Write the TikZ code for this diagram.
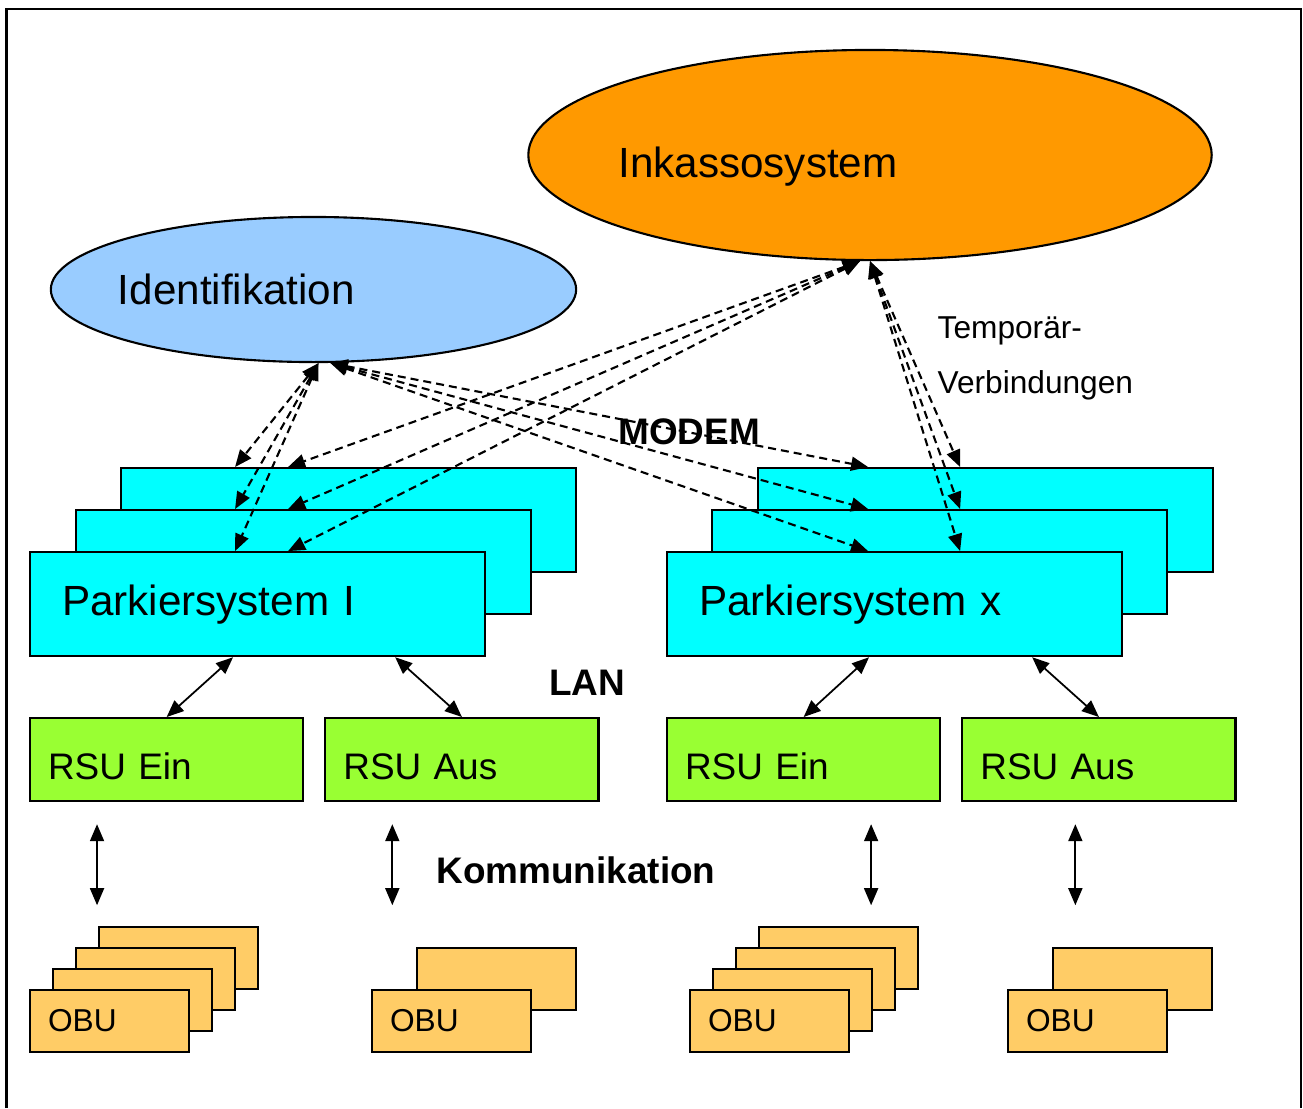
\documentclass[tikz,border=0pt]{standalone}
\usepackage{fontspec}
\setmainfont{Liberation Sans}
\usetikzlibrary{positioning,shapes.geometric,arrows.meta}

\definecolor{inkassoorange}{HTML}{FF9900}
\definecolor{identblue}{HTML}{99CCFF}
\definecolor{parkcyan}{HTML}{00FFFF}
\definecolor{rsugreen}{HTML}{99FF33}
\definecolor{obuyellow}{HTML}{FFCC66}

\begin{document}
\begin{tikzpicture}[
		x=0.01cm, y=-0.01cm,
		plainshape/.style={draw, line width=0.6pt, anchor=north west, align=left},
		parkshape/.style={plainshape, fill=parkcyan, minimum width=4.55cm, minimum height=1.04cm, inner xsep=0.32cm, text width=3.91cm, font=\fontsize{12}{14}\selectfont},
		rsushape/.style={plainshape, fill=rsugreen, minimum width=2.73cm, minimum height=0.83cm, inner xsep=0.18cm, text width=2.37cm, text height=0.4cm, font=\fontsize{10.5}{12}\selectfont},
		obushape/.style={plainshape, fill=obuyellow, minimum width=1.59cm, minimum height=0.62cm, inner xsep=0.18cm, text width=1.23cm, font=\fontsize{9}{11}\selectfont},
		cloudshape/.style={ellipse, draw, line width=0.6pt, inner sep=0pt},
		cloudtext/.style={font=\fontsize{12}{14}\selectfont},
		boldtext/.style={font=\bfseries\fontsize{10.5}{12}\selectfont},
		modem/.style={line width=0.6pt, dash pattern=on 0.8mm off 0.5mm, {Triangle[length=1.7mm,width=1.4mm]}-{Triangle[length=1.7mm,width=1.4mm]}},
		lan/.style={line width=0.5pt, {Triangle[length=1.7mm,width=1.4mm]}-{Triangle[length=1.7mm,width=1.4mm]}},
	]
		\useasboundingbox (0,0) rectangle (1303,1108);
		\draw[line width=0.8pt] (6.5,1108) -- (6.5,9) -- (1301,9) -- (1301,1108);

		% zentrale Systeme
		\node [cloudshape, fill=inkassoorange, minimum width=6.83cm, minimum height=2.1cm, label={[cloudtext, xshift=-1.12cm, yshift=-0.12cm]center:Inkassosystem}] (inkasso) at (870,155) {};
		\node [cloudshape, fill=identblue, minimum width=5.25cm, minimum height=1.45cm, label={[cloudtext, xshift=-0.77cm]center:Identifikation}] (ident) at (313.5,289.5) {};

		% Parkiersysteme
		\node [parkshape] (pl3) at (120,467) {};
		\node [parkshape] (pl2) at ([shift={(-0.45cm,-0.42cm)}]pl3.north west) {};
		\node [parkshape] (pl1) at ([shift={(-0.46cm,-0.42cm)}]pl2.north west) {Parkiersystem I};
		\node [parkshape] (px3) at (757,467) {};
		\node [parkshape] (px2) at ([shift={(-0.46cm,-0.42cm)}]px3.north west) {};
		\node [parkshape] (px1) at ([shift={(-0.45cm,-0.42cm)}]px2.north west) {Parkiersystem x};

		% RSU
		\node [rsushape] (rsu1) at (29,717) {RSU Ein};
		\node [rsushape, right=0.2cm of rsu1.north east, anchor=north west] (rsu2) {RSU Aus};
		\node [rsushape] (rsu3) at (666,717) {RSU Ein};
		\node [rsushape, right=0.2cm of rsu3.north east, anchor=north west] (rsu4) {RSU Aus};

		% OBU
		\foreach \name/\x/\n/\dx/\dy in {obua/29/3/0.23/0.21, obub/371/1/0.45/0.42, obuc/689/3/0.23/0.21, obud/1007/1/0.45/0.42} {
			\foreach \i in {\n,...,1}
				\node [obushape] (\name\i) at ([shift={(\i*\dx cm,\i*\dy cm)}]\x,989) {};
			\node [obushape] (\name0) at (\x,989) {OBU};
		}

		% Beschriftungen
		\node [boldtext] (modemlabel) at (689,432) {MODEM};
		\node [boldtext] (lanlabel) at (587,683) {LAN};
		\node [boldtext] (kommlabel) at (576,870) {Kommunikation};
		\node [font=\fontsize{9}{15.5}\selectfont, align=left, anchor=north west, inner sep=0pt] (templabel) at (937,316) {Temporär-\\Verbindungen};

		% Modemverbindungen
		\foreach \b/\s in {pl1/2.06, pl2/1.60, pl3/1.15}
			\draw [modem] ([xshift=0.05cm]ident.south) -- ([xshift=\s cm]\b.north west);
		\foreach \b/\s in {pl1/2.59, pl2/2.13, pl3/1.68}
			\draw [modem] ([xshift=-0.1cm]inkasso.south) -- ([xshift=\s cm]\b.north west);
		\foreach \b/\s in {px1/2.02, px2/1.57, px3/1.11}
			\draw [modem] ([xshift=0.17cm]ident.south) -- ([xshift=\s cm]\b.north west);
		\foreach \b/\s in {px1/2.94, px2/2.49, px3/2.03}
			\draw [modem] (inkasso.south) -- ([xshift=\s cm]\b.north west);

		% LAN
		\draw [lan] ([xshift=2.04cm]pl1.south west) -- (rsu1.north);
		\draw [lan] ([xshift=3.66cm]pl1.south west) -- (rsu2.north);
		\draw [lan] ([xshift=2.03cm]px1.south west) -- (rsu3.north);
		\draw [lan] ([xshift=3.66cm]px1.south west) -- (rsu4.north);

		% Kommunikation
		\foreach \r/\s in {rsu1/0.68, rsu2/0.68, rsu3/2.05, rsu4/1.14}
			\draw [lan] ([shift={(\s cm,-0.22cm)}]\r.south west) -- ++(0cm,-0.81cm);
	\end{tikzpicture}
\end{document}
